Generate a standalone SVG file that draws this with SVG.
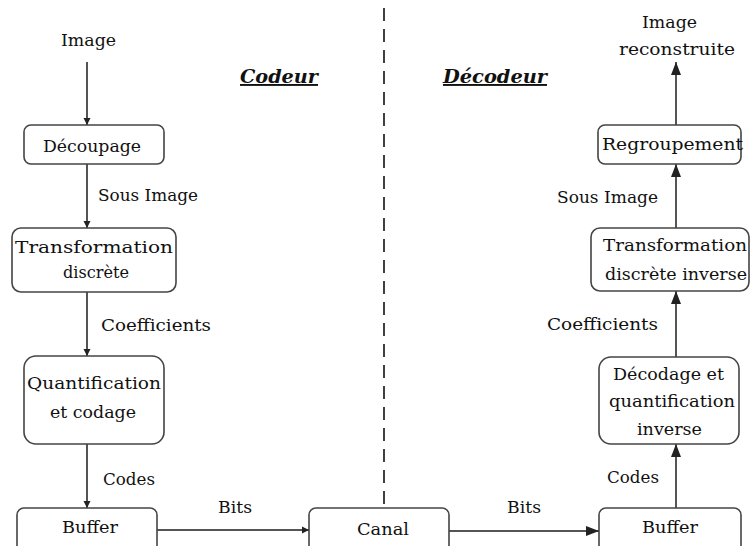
<svg xmlns="http://www.w3.org/2000/svg" width="750" height="546" viewBox="0 0 750 546">
<style>
  text { font-family: "DejaVu Serif", "Liberation Serif", serif; font-size: 17px; fill: #111; }
  .title { font-size: 19px; font-weight: bold; font-style: italic; text-decoration: underline; }
  .box { fill: #fff; stroke: #444; stroke-width: 1.6; }
  .arr { stroke: #555; stroke-width: 2; fill: none; }
</style>
<defs>
  <marker id="hs" markerUnits="userSpaceOnUse" markerWidth="8" markerHeight="8" refX="7" refY="4" orient="auto">
    <path d="M0,0.5 L7,4 L0,7.5 Z" fill="#222"/>
  </marker>
  <marker id="hl" markerUnits="userSpaceOnUse" markerWidth="14" markerHeight="12" refX="13" refY="6" orient="auto">
    <path d="M0,1 L13,6 L0,11 Z" fill="#222"/>
  </marker>
</defs>
<rect width="750" height="546" fill="#fff"/>

<g id="divider">
  <line x1="384" y1="8" x2="384" y2="508" stroke="#111" stroke-width="1.6" stroke-dasharray="13 8"/>
</g>

<g id="titles">
  <text class="title" x="240" y="83" textLength="78" lengthAdjust="spacingAndGlyphs">Codeur</text>
  <text class="title" x="443" y="83" textLength="104" lengthAdjust="spacingAndGlyphs">Décodeur</text>
</g>

<g id="connectors">
  <line class="arr" x1="87" y1="62" x2="87" y2="125" marker-end="url(#hs)"/>
  <line class="arr" x1="87" y1="164" x2="87" y2="228" marker-end="url(#hs)"/>
  <line class="arr" x1="87" y1="292" x2="87" y2="356" marker-end="url(#hs)"/>
  <line class="arr" x1="87" y1="444" x2="87" y2="508" marker-end="url(#hs)"/>
  <line class="arr" x1="157" y1="530" x2="309" y2="530" marker-end="url(#hs)"/>
  <line class="arr" x1="449" y1="531" x2="599" y2="531" marker-end="url(#hl)"/>
  <line class="arr" x1="676" y1="508" x2="676" y2="444" marker-end="url(#hl)"/>
  <line class="arr" x1="676" y1="357" x2="676" y2="291" marker-end="url(#hl)"/>
  <line class="arr" x1="676" y1="228" x2="676" y2="164" marker-end="url(#hl)"/>
  <line class="arr" x1="676" y1="125" x2="676" y2="62" marker-end="url(#hl)"/>
</g>

<g id="labels">
  <text x="61" y="46" textLength="55" lengthAdjust="spacingAndGlyphs">Image</text>
  <text x="98" y="201" textLength="100" lengthAdjust="spacingAndGlyphs">Sous Image</text>
  <text x="101" y="331" textLength="110" lengthAdjust="spacingAndGlyphs">Coefficients</text>
  <text x="103" y="485" textLength="52" lengthAdjust="spacingAndGlyphs">Codes</text>
  <text x="218" y="513" textLength="34" lengthAdjust="spacingAndGlyphs">Bits</text>
  <text x="507" y="513" textLength="34" lengthAdjust="spacingAndGlyphs">Bits</text>
  <text x="607" y="483" textLength="52" lengthAdjust="spacingAndGlyphs">Codes</text>
  <text x="547" y="330" textLength="111" lengthAdjust="spacingAndGlyphs">Coefficients</text>
  <text x="557" y="203" textLength="101" lengthAdjust="spacingAndGlyphs">Sous Image</text>
  <text x="642" y="28" textLength="55" lengthAdjust="spacingAndGlyphs">Image</text>
  <text x="619" y="55" textLength="116" lengthAdjust="spacingAndGlyphs">reconstruite</text>
</g>

<g id="decoupage">
  <rect class="box" x="24" y="125" width="140" height="39" rx="7"/>
  <text x="43" y="152" textLength="98" lengthAdjust="spacingAndGlyphs">Découpage</text>
</g>
<g id="transformation">
  <rect class="box" x="12" y="228" width="164" height="64" rx="9"/>
  <text x="15" y="253" textLength="158" lengthAdjust="spacingAndGlyphs">Transformation</text>
  <text x="63" y="278" textLength="66" lengthAdjust="spacingAndGlyphs">discrète</text>
</g>
<g id="quantification">
  <rect class="box" x="24" y="356" width="140" height="88" rx="12"/>
  <text x="27" y="389" textLength="134" lengthAdjust="spacingAndGlyphs">Quantification</text>
  <text x="50" y="418" textLength="86" lengthAdjust="spacingAndGlyphs">et codage</text>
</g>
<g id="buffer-codeur">
  <rect class="box" x="17" y="508" width="140" height="50" rx="7"/>
  <text x="62" y="533" textLength="56" lengthAdjust="spacingAndGlyphs">Buffer</text>
</g>
<g id="canal">
  <rect class="box" x="309" y="508" width="140" height="50" rx="7"/>
  <text x="357" y="535" textLength="52" lengthAdjust="spacingAndGlyphs">Canal</text>
</g>
<g id="buffer-decodeur">
  <rect class="box" x="599" y="508" width="142" height="50" rx="7"/>
  <text x="642" y="533" textLength="56" lengthAdjust="spacingAndGlyphs">Buffer</text>
</g>
<g id="decodage">
  <rect class="box" x="599" y="357" width="140" height="87" rx="12"/>
  <text x="613" y="380" textLength="111" lengthAdjust="spacingAndGlyphs">Décodage et</text>
  <text x="609" y="407" textLength="126" lengthAdjust="spacingAndGlyphs">quantification</text>
  <text x="637" y="435" textLength="65" lengthAdjust="spacingAndGlyphs">inverse</text>
</g>
<g id="transformation-inverse">
  <rect class="box" x="591" y="228" width="158" height="63" rx="9"/>
  <text x="603" y="251" textLength="144" lengthAdjust="spacingAndGlyphs">Transformation</text>
  <text x="605" y="280" textLength="142" lengthAdjust="spacingAndGlyphs">discrète inverse</text>
</g>
<g id="regroupement">
  <rect class="box" x="598" y="125" width="143" height="39" rx="7"/>
  <text x="602" y="150" textLength="141" lengthAdjust="spacingAndGlyphs">Regroupement</text>
</g>
</svg>
